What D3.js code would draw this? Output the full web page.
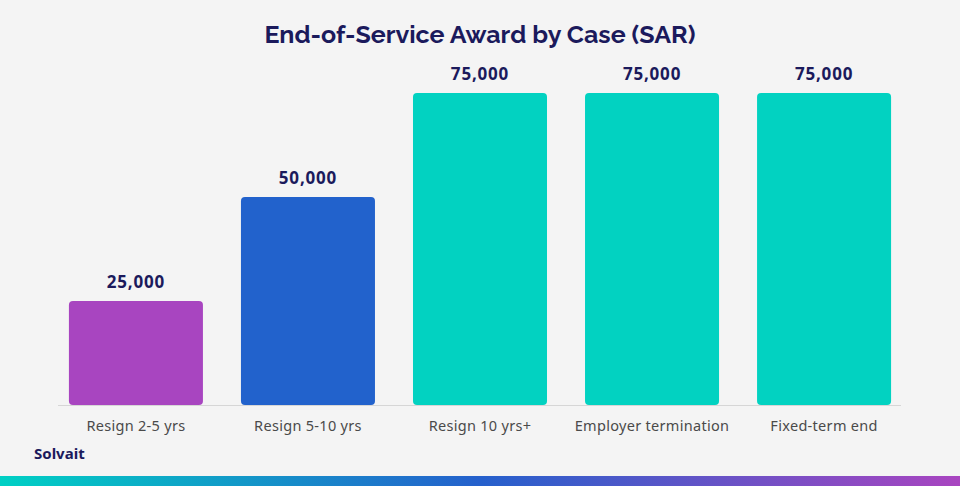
<!DOCTYPE html>
<html><head><meta charset="utf-8">
<script src="https://cdn.jsdelivr.net/npm/d3@7"></script>
<style>html,body{margin:0;padding:0;background:#f4f4f4;}svg{display:block;}</style>
</head><body>
<script>
const categories = ["Resign 2-5 yrs","Resign 5-10 yrs","Resign 10 yrs+","Employer termination","Fixed-term end"];
const values = [25000, 50000, 75000, 75000, 75000];
const colors = ["#a845c0","#2262cc","#02d2c1","#02d2c1","#02d2c1"];
const title = "End-of-Service Award by Case (SAR)";

const W = 960, H = 486;
const svg = d3.select("body").append("svg").attr("width", W).attr("height", H);
svg.append("rect").attr("width", W).attr("height", H).attr("fill", "#f4f4f4");

const defs = svg.append("defs");
const g = defs.append("linearGradient").attr("id","bottomGrad").attr("x1","0").attr("x2","1").attr("y1","0").attr("y2","0");
g.append("stop").attr("offset","0%").attr("stop-color","#00d0c4");
g.append("stop").attr("offset","50%").attr("stop-color","#2560cc");
g.append("stop").attr("offset","100%").attr("stop-color","#a945c0");

const x = d3.scaleBand().domain(categories).range([50, 910]).paddingInner(0.221).paddingOuter(0.11);
const y = d3.scaleLinear().domain([0, 75000]).range([405, 93]);

svg.append("text").attr("x", 480).attr("y", 43).attr("text-anchor","middle")
  .attr("font-family","Raleway, 'Noto Sans', sans-serif").attr("font-weight", 700)
  .attr("font-size", 25).attr("fill", "#1b1a5c").text(title);

svg.append("line").attr("x1", 58).attr("x2", 901).attr("y1", 405.5).attr("y2", 405.5)
  .attr("stroke", "#d6d6d6").attr("stroke-width", 1);

svg.selectAll("rect.bar").data(values).join("rect").attr("class","bar")
  .attr("x", (d,i) => x(categories[i])).attr("width", x.bandwidth())
  .attr("y", d => y(d)).attr("height", d => y(0) - y(d))
  .attr("rx", 4).attr("fill", (d,i) => colors[i]);

svg.selectAll("text.val").data(values).join("text").attr("class","val")
  .attr("x", (d,i) => x(categories[i]) + x.bandwidth()/2).attr("y", d => y(d) - 13)
  .attr("text-anchor","middle").attr("font-family","'Noto Sans', sans-serif").attr("font-weight",700)
  .attr("font-size", 17).attr("fill","#1b1a5c").attr("letter-spacing", 0.8)
  .text(d => d3.format(",")(d));

const axis = d3.axisBottom(x).tickSize(0).tickPadding(0);
const ax = svg.append("g").attr("transform", "translate(0,405)").call(axis);
ax.select(".domain").remove();
ax.selectAll("text").attr("y", 16).attr("font-family","'Noto Sans', sans-serif")
  .attr("font-size", 14.5).attr("letter-spacing", 0.3).attr("fill", "#4a4a4a");

svg.append("text").attr("x", 34).attr("y", 459).attr("font-family","'Noto Sans', sans-serif")
  .attr("font-weight", 700).attr("font-size", 15).attr("fill","#1b1a5c").text("Solvait");

svg.append("rect").attr("x", 0).attr("y", 476).attr("width", W).attr("height", 10).attr("fill","url(#bottomGrad)");
</script>
</body></html>
